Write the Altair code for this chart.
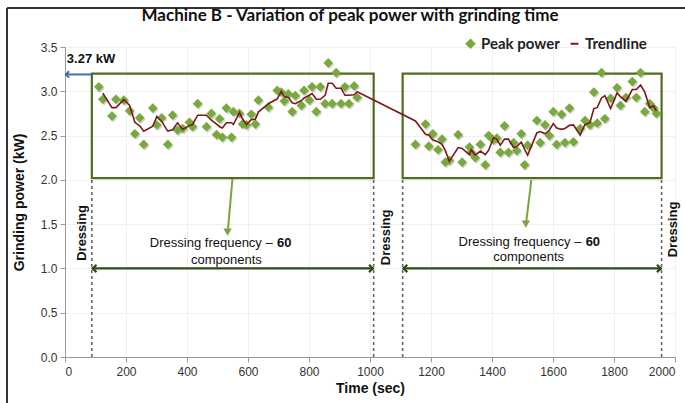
import altair as alt
import pandas as pd

# ---------------- data ----------------
left_time = [111, 124, 154, 167, 193, 212, 229, 245, 258, 288,
             301, 317, 337, 353, 369, 386, 408, 418, 435, 464,
             480, 497, 507, 516, 529, 546, 552, 572, 582, 595,
             611, 624, 634, 667, 696, 709, 719, 732, 745, 755,
             775, 784, 801, 810, 824, 837, 853, 863, 876, 889,
             905, 918, 931, 948, 958]
left_power = [3.05, 2.91, 2.72, 2.91, 2.90, 2.78, 2.52, 2.70, 2.40, 2.81,
              2.62, 2.70, 2.40, 2.73, 2.56, 2.58, 2.65, 2.60, 2.86, 2.60,
              2.75, 2.51, 2.69, 2.48, 2.81, 2.48, 2.77, 2.75, 2.63, 2.62,
              2.74, 2.63, 2.90, 2.82, 3.01, 2.99, 2.89, 2.97, 2.77, 2.95,
              2.84, 3.01, 2.90, 3.05, 2.77, 3.05, 2.86, 3.32, 2.86, 3.21,
              2.86, 3.05, 2.86, 3.06, 2.93]
right_time = [1149, 1182, 1193, 1206, 1223, 1236, 1247, 1260, 1289, 1302,
              1326, 1332, 1345, 1362, 1378, 1389, 1405, 1416, 1427, 1441,
              1454, 1471, 1481, 1496, 1507, 1517, 1547, 1558, 1574, 1588,
              1601, 1612, 1628, 1639, 1654, 1667, 1689, 1705, 1721, 1734,
              1745, 1759, 1770, 1789, 1810, 1821, 1839, 1860, 1873, 1887,
              1901, 1917, 1930, 1939]
right_power = [2.40, 2.63, 2.38, 2.52, 2.34, 2.46, 2.20, 2.22, 2.51, 2.20,
               2.37, 2.31, 2.25, 2.40, 2.17, 2.50, 2.45, 2.47, 2.31, 2.61,
               2.31, 2.42, 2.33, 2.52, 2.17, 2.39, 2.67, 2.42, 2.62, 2.50,
               2.77, 2.40, 2.74, 2.42, 2.81, 2.43, 2.58, 2.67, 2.62, 2.99,
               2.64, 3.21, 2.69, 2.92, 3.04, 2.84, 2.93, 3.11, 2.93, 3.21,
               2.77, 2.86, 2.81, 2.75]

x_ticks = [0, 200, 400, 600, 800, 1000, 1200, 1400, 1600, 1800, 2000]
y_ticks = [0.0, 0.5, 1.0, 1.5, 2.0, 2.5, 3.0, 3.5]
series_names = ["Peak power", "Trendline"]

# annotation anchors (data units)
box_start = [88, 1107]
box_end = [1012, 1956]
box_low = [2.02, 2.02]
box_high = [3.20, 3.20]
dressing_time = [88, 1012, 1107, 1956]
dressing_label_time = [56, 1052, 1993]
dressing_label_power = [1.40, 1.35, 1.44]

GREEN = "#79a93c"
RED = "#7b1a1a"
BOX = "#506c20"
DARKGREEN = "#2f4a14"
BLUE = "#3c70b2"
SANS = "Liberation Sans"

df = pd.DataFrame({"t": left_time + right_time,
                   "v": left_power + right_power})
df["series"] = "Peak power"

xs = alt.Scale(domain=[0, 2000], nice=False)
ys = alt.Scale(domain=[0, 3.5], nice=False)
leg = alt.Legend(title=None, orient="none", legendX=398, legendY=-11,
                 direction="horizontal", labelFont="Lato", labelFontSize=15,
                 labelFontWeight="bold", labelColor="#222", symbolSize=60,
                 symbolStrokeWidth=2, columnPadding=6, labelOffset=3)
fill_scale = alt.Scale(domain=series_names, range=[GREEN, RED])
shape_scale = alt.Scale(domain=series_names, range=["diamond", "stroke"])

base = alt.Chart(df)

X = alt.X("t:Q", scale=xs,
          axis=alt.Axis(values=x_ticks, format="d", title="Time (sec)", grid=True))
Y = alt.Y("v:Q", scale=ys,
          axis=alt.Axis(values=y_ticks, format=".1f",
                        title="Grinding power (kW)", grid=True))

boxes = alt.Chart(pd.DataFrame({"x": box_start, "x2": box_end,
                                "y": box_low, "y2": box_high})).mark_rect(
    fill=None, stroke=BOX, strokeWidth=2.2).encode(
    x=alt.X("x:Q", scale=xs), x2="x2:Q", y=alt.Y("y:Q", scale=ys), y2="y2:Q")

dash = alt.Chart(pd.DataFrame({"x": dressing_time,
                               "y": [0] * 4, "y2": [2.02] * 4})).mark_rule(
    color="#666", strokeDash=[3, 3], strokeWidth=1.6).encode(
    x=alt.X("x:Q", scale=xs), y=alt.Y("y:Q", scale=ys), y2="y2:Q")

shadow = base.mark_point(shape="diamond", filled=True, size=85, color="#666",
                         opacity=0.3, xOffset=1.2, yOffset=1.5).encode(x=X, y=Y)

points = base.mark_point(filled=True, size=85, opacity=1, strokeWidth=0.5).encode(
    x=X, y=Y,
    fill=alt.Fill("series:N", scale=fill_scale, legend=leg),
    stroke=alt.Stroke("series:N", scale=fill_scale, legend=leg),
    shape=alt.Shape("series:N", scale=shape_scale, legend=leg))

trend = base.transform_window(
    ma="mean(v)", idx="row_number()", frame=[-1, 0],
    sort=[alt.SortField("t")]).transform_filter("datum.idx > 1").transform_calculate(
    series="'Trendline'").mark_line(strokeWidth=1.6).encode(
    x=alt.X("t:Q", scale=xs), y=alt.Y("ma:Q", scale=ys),
    stroke=alt.Stroke("series:N", scale=fill_scale, legend=leg))

# double-headed arrows at 1.0 kW
span = alt.Chart(pd.DataFrame({"x": box_start, "x2": box_end,
                               "y": [1.0, 1.0]})).mark_rule(
    color=DARKGREEN, strokeWidth=2.2).encode(
    x=alt.X("x:Q", scale=xs), x2="x2:Q", y=alt.Y("y:Q", scale=ys))
heads = alt.Chart(pd.DataFrame({
    "x": [box_start[0] + 3, box_end[0] - 3, box_start[1] + 3, box_end[1] - 3],
    "y": [1.0] * 4,
    "p": ["M 1 -1 L 0 0 L 1 1", "M -1 -1 L 0 0 L -1 1"] * 2})).mark_point(
    filled=False, color=DARKGREEN, strokeWidth=2.2, size=55, opacity=1).encode(
    x=alt.X("x:Q", scale=xs), y=alt.Y("y:Q", scale=ys),
    shape=alt.Shape("p:N", scale=None))

# blue arrow to axis with 3.27 kW
blue = alt.Chart(pd.DataFrame({"x": [0], "x2": [88], "y": [3.19]})).mark_rule(
    color=BLUE, strokeWidth=2).encode(
    x=alt.X("x:Q", scale=xs), x2="x2:Q", y=alt.Y("y:Q", scale=ys))
blue_head = alt.Chart(pd.DataFrame({"x": [3], "y": [3.19],
                                    "p": ["M 1 -1 L 0 0 L 1 1"]})).mark_point(
    filled=False, color=BLUE, strokeWidth=2, size=40, opacity=1).encode(
    x=alt.X("x:Q", scale=xs), y=alt.Y("y:Q", scale=ys),
    shape=alt.Shape("p:N", scale=None))
kw_text = alt.Chart(pd.DataFrame({"x": [6], "y": [3.36], "s": ["3.27 kW"]})).mark_text(
    align="left", baseline="middle", font=SANS, fontWeight="bold",
    fontSize=13, color="#111").encode(
    x=alt.X("x:Q", scale=xs), y=alt.Y("y:Q", scale=ys), text="s:N")

# green pointer arrows
ptr = alt.Chart(pd.DataFrame({"x": [549, 1529], "x2": [534, 1512],
                              "y": [2.01, 2.0], "y2": [1.43, 1.52]})).mark_rule(
    color="#7da33d", strokeWidth=2).encode(
    x=alt.X("x:Q", scale=xs), x2="x2:Q", y=alt.Y("y:Q", scale=ys), y2="y2:Q")
ptr_head = alt.Chart(pd.DataFrame({"x": [533, 1511], "y": [1.41, 1.50]})).mark_point(
    shape="triangle-down", filled=True, color="#7da33d", size=70, opacity=1).encode(
    x=alt.X("x:Q", scale=xs), y=alt.Y("y:Q", scale=ys))

freq = alt.Chart(pd.DataFrame({"x": [681, 1693], "y": [1.29, 1.30],
                               "s": ["Dressing frequency \u2013"] * 2})).mark_text(
    align="right", baseline="middle", font=SANS, fontSize=13, color="#111").encode(
    x=alt.X("x:Q", scale=xs), y=alt.Y("y:Q", scale=ys), text="s:N")
sixty = alt.Chart(pd.DataFrame({"x": [695, 1707], "y": [1.29, 1.30],
                                "s": ["60", "60"]})).mark_text(
    align="left", baseline="middle", font=SANS, fontSize=13,
    fontWeight="bold", color="#111").encode(
    x=alt.X("x:Q", scale=xs), y=alt.Y("y:Q", scale=ys), text="s:N")
comp = alt.Chart(pd.DataFrame({"x": [529, 1520], "y": [1.09, 1.13],
                               "s": ["components"] * 2})).mark_text(
    align="center", baseline="middle", font=SANS, fontSize=13, color="#111").encode(
    x=alt.X("x:Q", scale=xs), y=alt.Y("y:Q", scale=ys), text="s:N")
dress = alt.Chart(pd.DataFrame({"x": dressing_label_time, "y": dressing_label_power,
                                "s": ["Dressing"] * 3})).mark_text(
    align="center", baseline="middle", angle=270, font=SANS, fontSize=13,
    fontWeight="bold", color="#111").encode(
    x=alt.X("x:Q", scale=xs), y=alt.Y("y:Q", scale=ys), text="s:N")

# outer picture frame
frame_left = alt.Chart(df).mark_rule(color="#333", strokeWidth=2).encode(
    x=alt.value(-58), y=alt.value(-39), y2=alt.value(360))
frame_top = alt.Chart(df).mark_rule(color="#333", strokeWidth=2).encode(
    x=alt.value(-58), x2=alt.value(625), y=alt.value(-39))

chart = alt.layer(
    boxes, dash, shadow, points, trend, span, heads, blue, blue_head, kw_text,
    ptr, ptr_head, freq, sixty, comp, dress, frame_left, frame_top
).resolve_scale(fill="shared", stroke="shared", shape="shared").properties(
    width=610, height=310,
    title=alt.TitleParams("Machine B - Variation of peak power with grinding time",
                          font="Lato", fontSize=17, fontWeight="bold",
                          color="#111", anchor="middle", dx=-20, offset=-18),
    padding={"left": 65, "top": 47, "right": 10, "bottom": 46},
    autosize="none",
).configure_view(stroke=None).configure_axis(
    labelFont=SANS, labelFontSize=12, labelColor="#333",
    titleFont=SANS, titleFontSize=14, titleFontWeight="bold", titleColor="#111",
    domainColor="#999", tickColor="#999", tickSize=5,
    gridColor="#f0f0f0", gridWidth=1,
).configure_axisY(titlePadding=14, labelPadding=3).configure_axisX(
    labelPadding=4, titlePadding=4)

chart.save("out.html", embed_options={"renderer": "svg", "actions": False})
